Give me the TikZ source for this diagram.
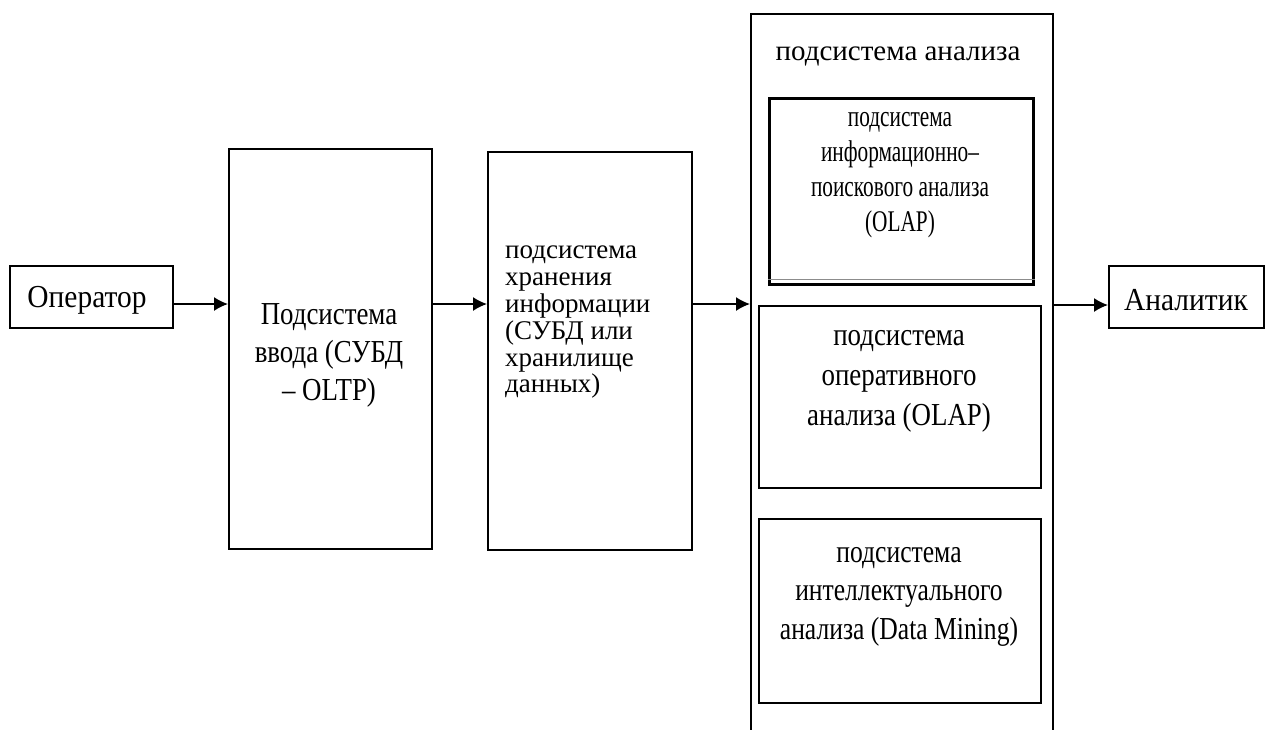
\documentclass[tikz,border=0pt]{standalone}
\usepackage{fontspec}
\setmainfont{Liberation Serif}
\newfontfamily\serifN{Liberation Serif}[FakeStretch=0.84]
\newfontfamily\serifW{Liberation Serif}[FakeStretch=0.92]
\newfontfamily\serifM{Liberation Serif}[FakeStretch=0.80]
\newfontfamily\serifNN{Liberation Serif}[FakeStretch=0.71]
\usetikzlibrary{arrows.meta}
\lineskiplimit=-100pt\relax
\begin{document}
\begin{tikzpicture}[x=1pt,y=-1pt,
  box/.style={draw, line width=1.6pt, inner sep=0pt, anchor=north west},
  heavybox/.style={draw, line width=2.6pt, inner sep=0pt, anchor=north west},
  arr/.style={line width=1.6pt, -{Latex[length=14pt,width=14pt]}},
  txt/.style={inner sep=0pt, align=center},
  ]
\lineskiplimit=-100pt\relax
\useasboundingbox (0,0) rectangle (1271,729);
% boxes
\node[box, minimum width=163pt, minimum height=62pt] (op) at (9,265) {};
\node[box, minimum width=203pt, minimum height=400pt] (inp) at (228,148) {};
\node[box, minimum width=204pt, minimum height=398pt] (sto) at (487,151) {};
\begin{scope}
\clip (0,0) rectangle (1271,729);
\node[box, minimum width=302pt, minimum height=760pt] (ana) at (750,13) {};
\end{scope}
\node[heavybox, minimum width=264pt, minimum height=186pt] (in1) at (768,97) {};
\draw[line width=1.2pt, black!45] ([yshift=6pt]in1.south west) -- ([yshift=6pt]in1.south east);
\node[box, minimum width=282pt, minimum height=182pt] (in2) at (758,305) {};
\node[box, minimum width=282pt, minimum height=184pt] (in3) at (758,518) {};
\node[box, minimum width=155pt, minimum height=62pt] (an) at (1108,265) {};
% texts
\node[txt, anchor=base, font=\serifW\fontsize{32}{36}\selectfont] (opT) at (87,307) {Оператор};
\node[txt, anchor=north, font=\serifN\fontsize{32}{38}\selectfont] (inpT) at (329,303)
  {Подсистема\\ввода (СУБД\\– OLTP)};
\node[txt, align=left, anchor=north west, font=\fontsize{27}{26.8}\selectfont] (stoT) at (505,246)
  {подсистема\\хранения\\информации\\(СУБД или\\хранилище\\данных)};
\node[txt, anchor=base, font=\fontsize{29}{34}\selectfont] (anaT) at (898,60) {подсистема анализа};
\node[txt, anchor=north, font=\serifNN\fontsize{30}{35}\selectfont] (in1T) at (900,112)
  {подсистема\\информационно–\\поискового анализа\\(OLAP)};
\node[txt, anchor=north, font=\serifN\fontsize{32}{40}\selectfont] (in2T) at (899,330)
  {подсистема\\оперативного\\анализа (OLAP)};
\node[txt, anchor=north, font=\serifM\fontsize{32}{38.5}\selectfont] (in3T) at (899,547)
  {подсистема\\интеллектуального\\анализа (Data Mining)};
\node[txt, anchor=base, font=\serifW\fontsize{32}{36}\selectfont] (anT) at (1186,310) {Аналитик};
% connectors
\coordinate (row) at (0,304);
\coordinate (row2) at (0,305);
\draw[arr] (op.east |- row) -- (inp.west |- row);
\draw[arr] (inp.east |- row) -- (sto.west |- row);
\draw[arr] (sto.east |- row) -- (ana.west |- row);
\draw[arr] (ana.east |- row2) -- (an.west |- row2);
\end{tikzpicture}
\end{document}
